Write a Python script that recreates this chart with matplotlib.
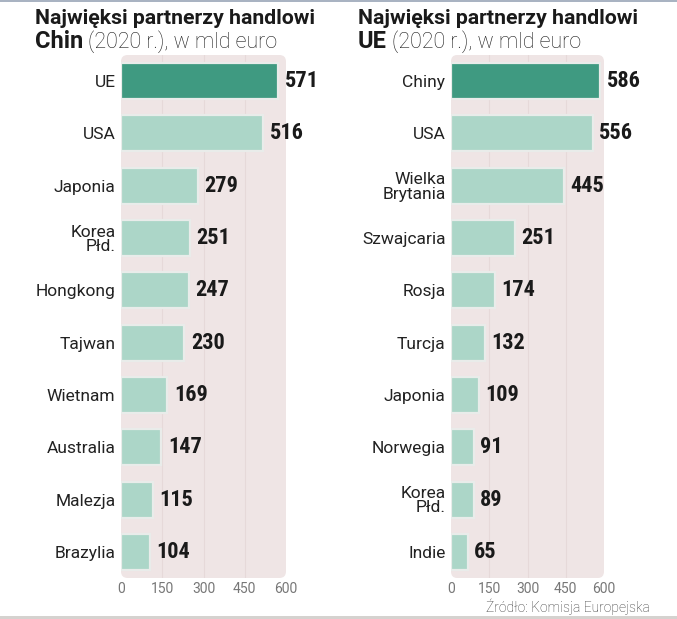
import matplotlib.pyplot as plt
from matplotlib.patches import FancyBboxPatch, Rectangle

# data
china_partners = ["UE", "USA", "Japonia", "Korea\nPłd.", "Hongkong", "Tajwan",
                  "Wietnam", "Australia", "Malezja", "Brazylia"]
china_values = [571, 516, 279, 251, 247, 230, 169, 147, 115, 104]

eu_partners = ["Chiny", "USA", "Wielka\nBrytania", "Szwajcaria", "Rosja", "Turcja",
               "Japonia", "Norwegia", "Korea\nPłd.", "Indie"]
eu_values = [586, 556, 445, 251, 174, 132, 109, 91, 89, 65]

x_ticks = [0, 150, 300, 450, 600]

DARK = "#3f9a81"
LIGHT = "#acd6c8"
PANEL = "#efe5e5"

plt.rcParams['font.family'] = ['Roboto', 'DejaVu Sans']

fig = plt.figure(figsize=(6.77, 6.19), dpi=100)


def panel(ax, labels, values):
    n = len(values)
    ax.set_xlim(0, 600)
    ax.set_ylim(n - 0.5, -0.5)
    # pinkish rounded background
    bg = FancyBboxPatch((0, 0), 1, 1, boxstyle="round,pad=0,rounding_size=0.04",
                        transform=ax.transAxes, facecolor=PANEL, edgecolor="none",
                        zorder=0, clip_on=False, mutation_aspect=165 / 523)
    ax.add_patch(bg)
    for x in x_ticks[1:-1]:
        ax.axvline(x, color="#e6d9d9", lw=0.8, zorder=1)
    colors = [DARK] + [LIGHT] * (n - 1)
    ax.barh(range(n), values, height=0.69, color=colors,
            edgecolor="#e9ecea", linewidth=1.6, zorder=2)
    for i, v in enumerate(values):
        ax.text(v + 24, i, str(v), va="center", ha="left", fontsize=16,
                fontweight="bold", family=['Roboto Condensed', 'Liberation Sans Narrow', 'Roboto'],
                color="#1a1a1a")
    ax.set_yticks(range(n))
    ax.set_yticklabels(labels, fontsize=12.5, color="#222222", linespacing=0.95)
    ax.set_xticks(x_ticks)
    ax.set_xticklabels([str(t) for t in x_ticks], fontsize=10, color="#777777")
    ax.tick_params(length=0, axis="both")
    ax.tick_params(axis="y", pad=4)
    ax.tick_params(axis="x", pad=3)
    for s in ax.spines.values():
        s.set_visible(False)
    ax.set_facecolor("none")


ax1 = fig.add_axes([121 / 677, 1 - 578 / 619, 165 / 677, 523 / 619])
panel(ax1, china_partners, china_values)
ax2 = fig.add_axes([451 / 677, 1 - 578 / 619, 153 / 677, 523 / 619])
panel(ax2, eu_partners, eu_values)

title_font = ['Liberation Sans Narrow', 'Roboto']
fig.text(35 / 677, 1 - 18 / 619, "Najwięksi partnerzy handlowi", fontsize=15.3,
         fontweight="bold", family=title_font, va="center", ha="left", color="#1a1a1a")
fig.text(358 / 677, 1 - 18 / 619, "Najwięksi partnerzy handlowi", fontsize=15.3,
         fontweight="bold", family=title_font, va="center", ha="left", color="#1a1a1a")

fig.text(35 / 677, 1 - 42 / 619, "Chin", fontsize=17, fontweight="bold",
         family=title_font, va="center", ha="left", color="#1a1a1a")
fig.text(88 / 677, 1 - 42 / 619, "(2020 r.), w mld euro", fontsize=15.5,
         fontweight="light", family=['Roboto'], va="center", ha="left", color="#1e1e1e")
fig.text(358 / 677, 1 - 42 / 619, "UE", fontsize=17, fontweight="bold",
         family=title_font, va="center", ha="left", color="#1a1a1a")
fig.text(392 / 677, 1 - 42 / 619, "(2020 r.), w mld euro", fontsize=15.5,
         fontweight="light", family=['Roboto'], va="center", ha="left", color="#1e1e1e")

fig.text(650 / 677, 1 - 607 / 619, "Źródło: Komisja Europejska", fontsize=10,
         ha="right", va="center", color="#333333", fontweight="light")

# frame strips
fig.patches.append(Rectangle((0, 1 - 2 / 619), 1, 2 / 619, transform=fig.transFigure,
                             facecolor="#a9b3c2", edgecolor="none"))
fig.patches.append(Rectangle((0, 0), 1, 3 / 619, transform=fig.transFigure,
                             facecolor="#d5d2cf", edgecolor="none"))

fig.savefig("out.png", dpi=100)
